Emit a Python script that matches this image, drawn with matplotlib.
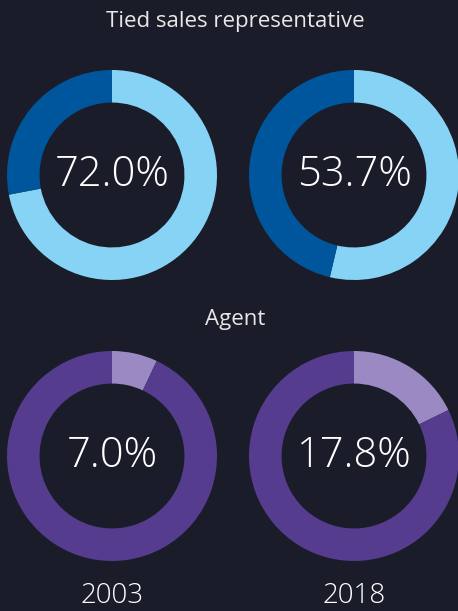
import matplotlib.pyplot as plt

# data
years = ["2003", "2018"]
tied = [72.0, 53.7]
agent = [7.0, 17.8]

bg = "#1a1d29"
blue_light, blue_dark = "#87d3f5", "#00569c"
purple_light, purple_dark = "#9b89c4", "#553c8f"

W, H = 458, 611
fig = plt.figure(figsize=(W / 100, H / 100), dpi=100, facecolor=bg)
plt.rcParams['font.family'] = ['Open Sans', 'DejaVu Sans']


def donut(cx, cy, r, share, c_main, c_rest):
    ax = fig.add_axes([(cx - r) / W, (H - cy - r) / H, 2 * r / W, 2 * r / H])
    ax.pie([share, 100 - share], colors=[c_main, c_rest], startangle=90,
           counterclock=False, radius=1, wedgeprops=dict(width=0.31, linewidth=0))
    ax.set_xlim(-1, 1)
    ax.set_ylim(-1, 1)
    ax.set_aspect("equal")
    ax.axis("off")
    ax.text(0, 0, "%.1f%%" % share, ha="center", va="center",
            color="white", fontsize=30, fontweight="light")


xs = [112, 354]
for i in range(2):
    donut(xs[i], 175, 105, tied[i], blue_light, blue_dark)
    donut(xs[i], 456, 105, agent[i], purple_light, purple_dark)
    fig.text(xs[i] / W, 1 - 596 / H, years[i], ha="center", va="center",
             color="white", fontsize=20, fontweight="light")

fig.text(235 / W, 1 - 22 / H, "Tied sales representative", ha="center", va="center",
         color="#e8e8e8", fontsize=16)
fig.text(235 / W, 1 - 319 / H, "Agent", ha="center", va="center",
         color="#e8e8e8", fontsize=16)

fig.savefig("out.png", dpi=100, facecolor=bg)
